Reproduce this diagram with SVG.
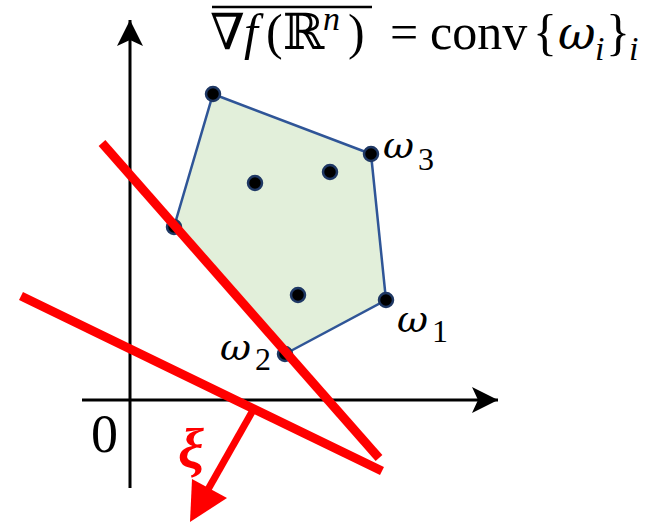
<svg xmlns="http://www.w3.org/2000/svg" width="654" height="522" viewBox="0 0 654 522">
<style>
.ax{stroke:#000;stroke-width:3;fill:none}
.red{stroke:#ff0000;stroke-width:9;fill:none}
.dot{fill:#000;stroke:#1f3864;stroke-width:2.5}
.t{font-family:"Liberation Serif","DejaVu Serif",serif;fill:#000}
.w{font-family:"DejaVu Serif","Liberation Serif",serif;font-style:italic;fill:#000}
.i{font-style:italic}
.sub{font-family:"Liberation Serif","DejaVu Serif",serif;font-style:normal;font-size:32px}
</style>
<defs>
<marker id="ah" markerUnits="userSpaceOnUse" markerWidth="30" markerHeight="30" refX="26" refY="13" orient="auto" viewBox="0 0 30 26">
<path d="M0,0 L26,13 L0,26 L6,13 Z" fill="#000"/>
</marker>
</defs>
<g id="connectors">
<line class="ax" x1="130" y1="488" x2="130" y2="20" marker-end="url(#ah)"/>
<line class="ax" x1="82" y1="400" x2="498" y2="400" marker-end="url(#ah)"/>
</g>
<g id="polytope">
<polygon points="213,94 371,154 386,300 285,354 174,227" fill="#e2efda" stroke="#2f5597" stroke-width="2.5"/>
<circle class="dot" cx="213" cy="94" r="7"/>
<circle class="dot" cx="371" cy="154" r="7"/>
<circle class="dot" cx="386" cy="300" r="7"/>
<circle class="dot" cx="285" cy="354" r="7"/>
<circle class="dot" cx="174" cy="227" r="7"/>
<circle class="dot" cx="255" cy="183" r="7"/>
<circle class="dot" cx="330" cy="172" r="7"/>
<circle class="dot" cx="298" cy="295" r="7"/>
</g>
<g id="hyperplanes">
<line class="red" x1="102" y1="143" x2="379" y2="458"/>
<line class="red" x1="21" y1="296" x2="382" y2="471"/>
<line stroke="#ff0000" stroke-width="7" x1="252" y1="412" x2="206" y2="493"/>
<polygon points="192,479 227,498 190,522" fill="#ff0000"/>
</g>
<g id="labels">
<text class="t i" x="178" y="468" font-size="58" font-weight="bold" style="fill:#ff0000">ξ</text>
<text class="t" x="91" y="452" font-size="54">0</text>
<text class="w" x="383" y="158" font-size="38">ω<tspan class="sub" x="418" y="170">3</tspan></text>
<text class="w" x="397" y="332" font-size="38">ω<tspan class="sub" x="432" y="342">1</tspan></text>
<text class="w" x="220" y="360" font-size="38">ω<tspan class="sub" x="255" y="370">2</tspan></text>
<line x1="212" y1="7" x2="372" y2="7" stroke="#000" stroke-width="2.5"/>
<text class="t" y="49" font-size="50"><tspan x="210">∇</tspan><tspan class="i" x="244">f</tspan><tspan x="266">(ℝ</tspan><tspan class="i" font-size="34" x="323" y="30">n</tspan><tspan x="348" y="49">)</tspan><tspan x="390">=</tspan><tspan x="430">conv</tspan><tspan x="533">{</tspan><tspan class="w" font-size="46" x="558">ω</tspan><tspan class="i" font-size="34" x="595" y="60">i</tspan><tspan x="606" y="49">}</tspan><tspan class="i" font-size="34" x="629" y="60">i</tspan></text>
</g>
</svg>
